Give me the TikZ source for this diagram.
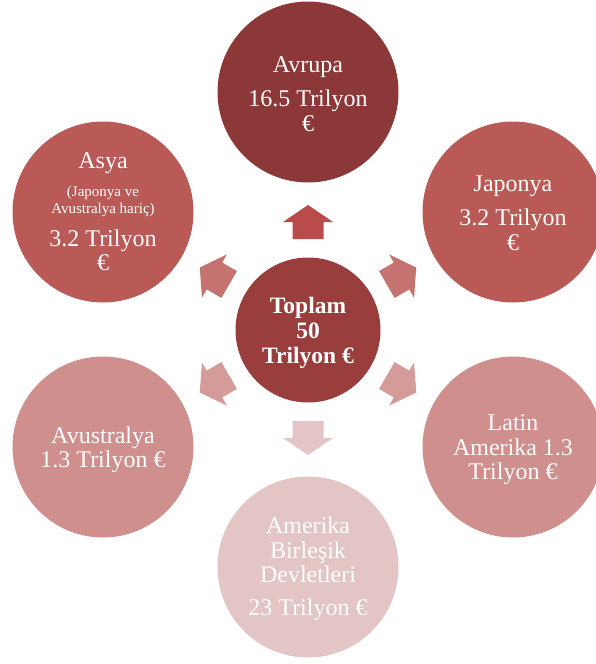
\documentclass[tikz,border=0pt]{standalone}
\usepackage{fontspec}
\setmainfont{Liberation Serif}
\definecolor{cCenter}{HTML}{993D3D}
\definecolor{cTop}{HTML}{8D3838}
\definecolor{cMid}{HTML}{B95A57}
\definecolor{cLow}{HTML}{CE8F8D}
\definecolor{cBot}{HTML}{E4C5C5}
\definecolor{aTop}{HTML}{B94C4A}
\definecolor{aMid}{HTML}{C57371}
\definecolor{aLow}{HTML}{D49B99}
\definecolor{aBot}{HTML}{E4C5C5}
\tikzset{
  circ/.style={circle, draw=none, minimum size=181pt, inner sep=0pt},
  lbl/.style={text=white, text width=175pt, align=flush center, inner sep=0pt,
    font=\fontsize{24}{24.5}\selectfont},
}
\newcommand{\myarrow}[2]{%
  \begin{scope}[shift={(mid)}, rotate=#1]
    \fill[#2] (91,-15.5) -- (108,-15.5) -- (108,-25) -- (125,0) -- (108,25) -- (108,15.5) -- (91,15.5) -- cycle;
  \end{scope}}
\begin{document}
\begin{tikzpicture}[x=1pt,y=-1pt]
\useasboundingbox (0,0) rectangle (595,664);
\coordinate (mid) at (308,330);
% outer circles
\node[circ, fill=cTop] (avrupa) at (308,92) {};
\node[circ, fill=cMid] (japonya) at (513,212) {};
\node[circ, fill=cLow] (latin) at (513,447) {};
\node[circ, fill=cBot] (abd) at (308,567) {};
\node[circ, fill=cLow] (avustralya) at (103,447) {};
\node[circ, fill=cMid] (asya) at (103,212) {};
\node[circle, draw=none, inner sep=0pt, minimum size=145pt, fill=cCenter] (toplam) at (mid) {};
% labels
\node[lbl] (avrupaT) at ([yshift=-2pt]avrupa.center) {Avrupa\\[10pt]16.5 Trilyon\\€};
\node[lbl] (japonyaT) at ([yshift=-1pt]japonya.center) {Japonya\\[10pt]3.2 Trilyon\\€};
\node[lbl] (latinT) at ([yshift=-3pt]latin.center) {Latin\\Amerika 1.3\\Trilyon €};
\node[lbl] (avustralyaT) at ([yshift=-3pt]avustralya.center) {Avustralya\\1.3 Trilyon €};
\node[lbl] (abdT) at ([yshift=-2pt]abd.center) {Amerika\\Birleşik\\Devletleri\\[8pt]23 Trilyon €};
\node[lbl] (asyaT) at ([yshift=0pt]asya.center) {Asya\par\vspace{11pt}{\fontsize{15}{17}\selectfont (Japonya ve\\Avustralya hariç)\par}\vspace{8pt}3.2 Trilyon\\€};
\node[lbl, font=\fontsize{23.5}{25}\selectfont\bfseries] (toplamT) at ([yshift=-3pt]toplam.center) {Toplam\\50\\Trilyon €};
% arrows
\myarrow{90}{aTop}
\myarrow{30}{aMid}
\myarrow{150}{aMid}
\myarrow{-30}{aLow}
\myarrow{210}{aLow}
\myarrow{-90}{aBot}
\end{tikzpicture}
\end{document}
